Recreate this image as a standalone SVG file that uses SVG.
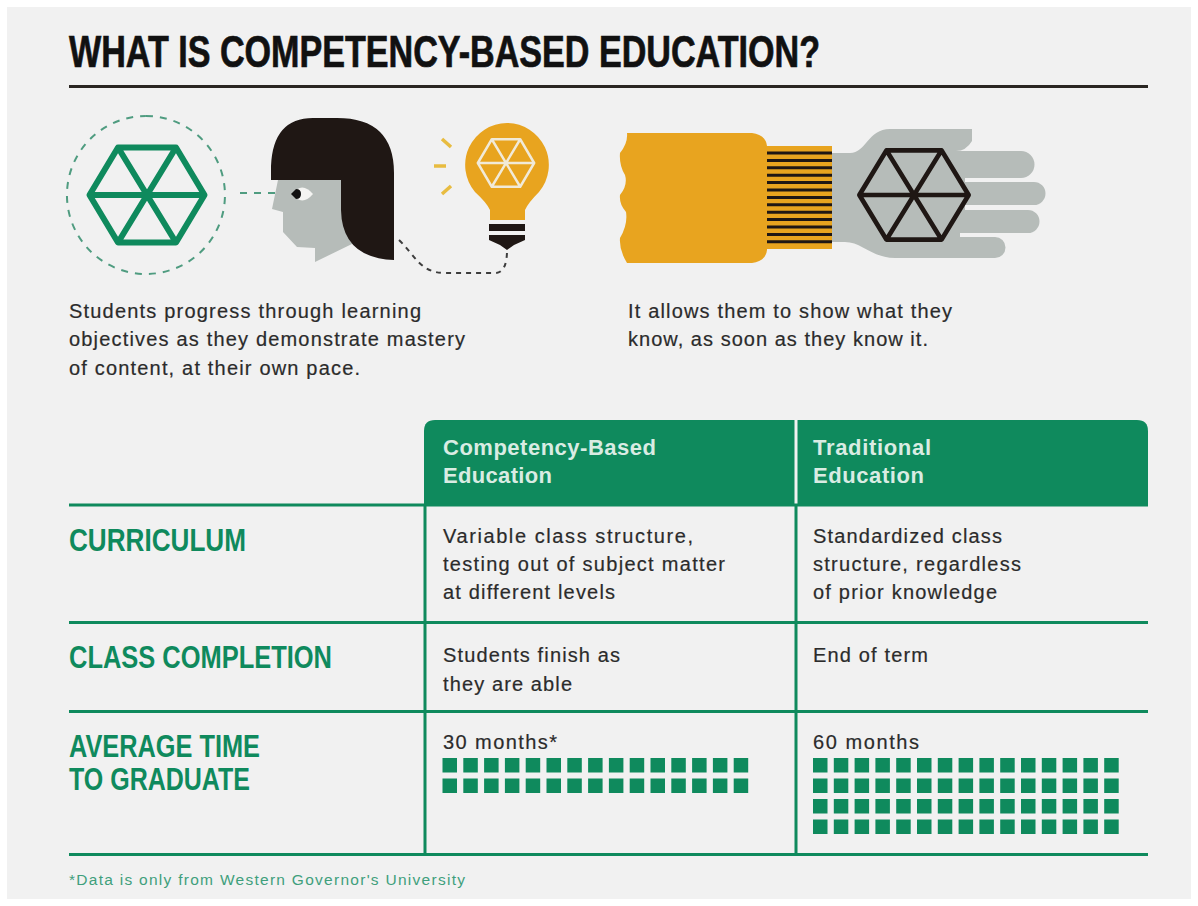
<svg xmlns="http://www.w3.org/2000/svg" xmlns:xlink="http://www.w3.org/1999/xlink" width="1198" height="906" viewBox="0 0 1198 906">
<style>
.b{font-family:"Liberation Sans",Arial,sans-serif;font-size:20px;fill:#2b2b2b;stroke:#2b2b2b;stroke-width:.2}
.h{font-family:"Liberation Sans",Arial,sans-serif;font-size:22px;font-weight:bold;fill:#d9ece3}
.t{font-family:"Liberation Sans Narrow","Liberation Sans",Arial,sans-serif;font-weight:bold}
.r{font-size:31px;fill:#0f8a5d}
.g{stroke:#0f8a5d;stroke-width:3;fill:none}
.d{fill:none;stroke:#3d3d3d;stroke-width:2;stroke-dasharray:5 5}
.e{fill:none;stroke:#4f9c80;stroke-width:2;stroke-dasharray:7 7}
.sq{fill:#0f8a5d}
</style>
<defs>
<path id="hex" d="M-29 -47.500H29L57.500 0L29 47.500H-29L-57.500 0ZM-29 -47.500L29 47.500M29 -47.500L-29 47.500M-57.500 0H57.500" stroke-linejoin="round" fill="none"/>
<rect id="s" width="14.500" height="14.500" class="sq"/>
<g id="row"><use xlink:href="#s" x="0"/><use xlink:href="#s" x="20.800"/><use xlink:href="#s" x="41.600"/><use xlink:href="#s" x="62.400"/><use xlink:href="#s" x="83.200"/><use xlink:href="#s" x="104"/><use xlink:href="#s" x="124.800"/><use xlink:href="#s" x="145.600"/><use xlink:href="#s" x="166.400"/><use xlink:href="#s" x="187.200"/><use xlink:href="#s" x="208"/><use xlink:href="#s" x="228.800"/><use xlink:href="#s" x="249.600"/><use xlink:href="#s" x="270.400"/><use xlink:href="#s" x="291.200"/></g>
</defs>
<rect width="1198" height="906" fill="#ffffff"/>
<rect x="7" y="7" width="1184" height="892" fill="#f1f1f1"/>
<g id="title">
<text class="t" x="69" y="67" font-size="44" fill="#111" stroke="#111" stroke-width=".7" textLength="751" lengthAdjust="spacingAndGlyphs">WHAT IS COMPETENCY-BASED EDUCATION?</text>
<rect x="69" y="85" width="1079" height="3" fill="#2a2622"/>
</g>
<g id="connectors">
<path class="e" d="M146 116A79 79 0 1 1 145.900 116"/>
<path class="e" d="M240 193H290"/>
<path class="d" d="M399 240C415 255 420 273 445 273H495Q507 273 507 250"/>
</g>
<g id="green-hexagon" stroke="#0f8a5d" stroke-width="6"><use xlink:href="#hex" transform="translate(147 195)"/></g>
<g id="head">
<path fill="#b6bcb9" d="M278 180H344V227L354 243L315 262V248L297 247L283 232V212L272 209Z"/>
<path fill="#1f1714" d="M271 180V166Q273 118 313 118H337Q394 118 394 173V260Q342 258 341 210V180Z"/>
<path fill="#f4f4f2" d="M292 194Q302 181 313 194Q302 207 292 194Z"/>
<path fill="#111" d="M291 194L296 189Q301 189 301 194Q301 199 296 199Z"/>
</g>
<g id="bulb">
<path fill="#e8a41f" d="M507 123A42 42 0 0 1 539 192Q528 203 525 210V220H490V210Q487 203 475 192A42 42 0 0 1 507 123Z"/>
<g stroke="#f1ead8" stroke-width="5"><use xlink:href="#hex" transform="translate(506 163) scale(.49 .5)"/></g>
<rect x="489" y="224" width="36" height="7" fill="#1f1714"/>
<path fill="#1f1714" d="M489 235H525V240L514 245L507 250L500 245L489 240Z"/>
<path d="M442 139L451 147M434 166H446M442 194L451 186" stroke="#e8bc40" stroke-width="3.500" fill="none"/>
</g>
<g id="hand">
<path fill="#b6bcb9" d="M832 153H850C866 153 868 129 890 129H972V141Q966 151 956 151H1021A13 13 0 0 1 1021 178H965V182H1034A11.500 11.500 0 0 1 1034 205H965V210H1028A11.500 11.500 0 0 1 1028 233H960V237H995A10.500 10.500 0 0 1 995 258H895C872 258 862 242 845 242H832Z"/>
<path fill="#e8a41f" d="M627 133H752Q766 135 767 146V250Q766 261 752 263H627Q619 250 620 238Q628 224 626 212Q619 204 620 195Q628 185 625 175Q619 165 620 153Q628 143 627 133Z"/>
<rect x="767" y="146" width="65" height="103" fill="#e8a41f"/>
<path stroke="#1f1714" stroke-width="3" d="M767 153H832M767 160.400H832M767 167.800H832M767 175.200H832M767 182.600H832M767 190H832M767 197.400H832M767 204.800H832M767 212.200H832M767 219.600H832M767 227H832M767 234.400H832M767 241.800H832"/>
<g stroke="#1f1714" stroke-width="5"><use xlink:href="#hex" transform="translate(914 195) scale(.95 .94)"/></g>
</g>
<g id="intro">
<text class="b" x="69" y="318" textLength="352">Students progress through learning</text>
<text class="b" x="69" y="346" textLength="396">objectives as they demonstrate mastery</text>
<text class="b" x="69" y="375" textLength="291">of content, at their own pace.</text>
<text class="b" x="628" y="318" textLength="324">It allows them to show what they</text>
<text class="b" x="628" y="346" textLength="300">know, as soon as they know it.</text>
</g>
<g id="table-header">
<path fill="#0f8a5d" d="M424 506V431Q424 420 435 420H1137Q1148 420 1148 431V506Z"/>
<rect x="794.500" y="420" width="3" height="86" fill="#f1f1f1"/>
<text class="h" x="443" y="455" textLength="213">Competency-Based</text>
<text class="h" x="443" y="483" textLength="109">Education</text>
<text class="h" x="813" y="455" textLength="118">Traditional</text>
<text class="h" x="813" y="483" textLength="111">Education</text>
</g>
<g id="grid">
<path class="g" d="M69 505H1148M69 622.500H1148M69 711.500H1148M69 854.500H1148M425 505V855M796 505V855"/>
</g>
<g id="row-curriculum">
<text class="t r" x="69" y="551" textLength="177" lengthAdjust="spacingAndGlyphs">CURRICULUM</text>
<text class="b" x="443" y="543" textLength="250">Variable class structure,</text>
<text class="b" x="443" y="571" textLength="282">testing out of subject matter</text>
<text class="b" x="443" y="599" textLength="172">at different levels</text>
<text class="b" x="813" y="543" textLength="189">Standardized class</text>
<text class="b" x="813" y="571" textLength="208">structure, regardless</text>
<text class="b" x="813" y="599" textLength="184">of prior knowledge</text>
</g>
<g id="row-completion">
<text class="t r" x="69" y="668" textLength="263" lengthAdjust="spacingAndGlyphs">CLASS COMPLETION</text>
<text class="b" x="443" y="662" textLength="177">Students finish as</text>
<text class="b" x="443" y="691" textLength="129">they are able</text>
<text class="b" x="813" y="662" textLength="115">End of term</text>
</g>
<g id="row-time">
<text class="t r" x="69" y="757" textLength="191" lengthAdjust="spacingAndGlyphs">AVERAGE TIME</text>
<text class="t r" x="69" y="790" textLength="181" lengthAdjust="spacingAndGlyphs">TO GRADUATE</text>
<text class="b" x="443" y="749" textLength="114">30 months*</text>
<text class="b" x="813" y="749" textLength="106">60 months</text>
<use xlink:href="#row" x="442.500" y="758"/>
<use xlink:href="#row" x="442.500" y="778.500"/>
<use xlink:href="#row" x="813" y="758"/>
<use xlink:href="#row" x="813" y="778.500"/>
<use xlink:href="#row" x="813" y="799"/>
<use xlink:href="#row" x="813" y="819.500"/>
</g>
<g id="footnote">
<text x="69" y="885" font-family="Liberation Sans,Arial,sans-serif" font-size="15.500" fill="#3f9f7c" textLength="396">*Data is only from Western Governor's University</text>
</g>
</svg>
